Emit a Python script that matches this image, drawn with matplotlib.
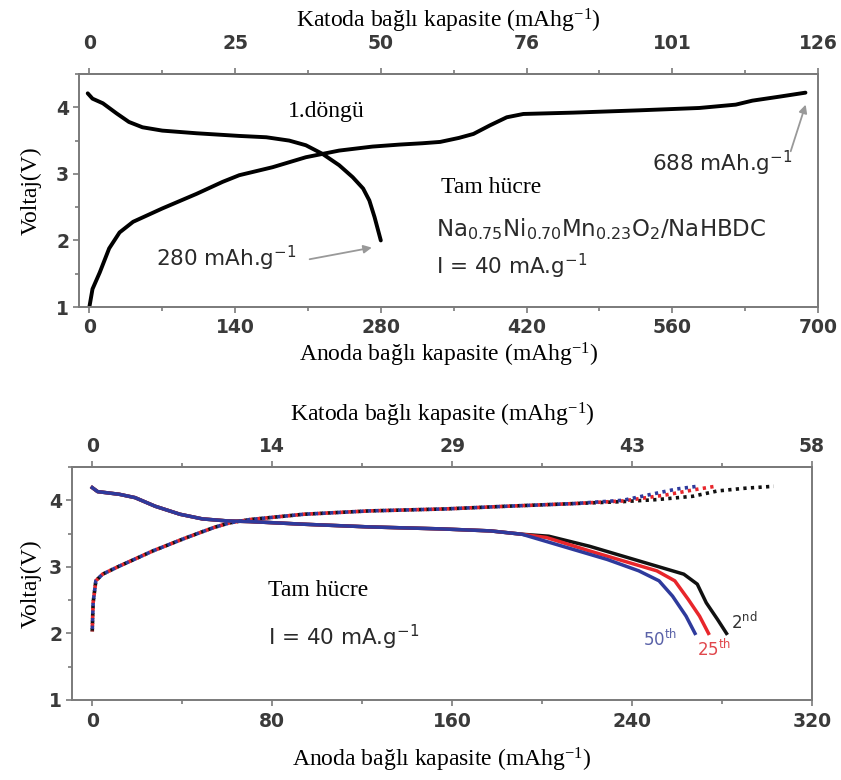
import matplotlib.pyplot as plt
from matplotlib.ticker import MultipleLocator

plt.rcParams['mathtext.default'] = 'regular'

SERIF = 'Liberation Serif'
SANS = 'DejaVu Sans'
GREY = '#7a7a7a'

# --- first cycle (top panel) ---
top_anode_ticks = [0, 140, 280, 420, 560, 700]
top_cathode_labels = ['0', '25', '50', '76', '101', '126']

dis1_x = [-1.6, 3, 13, 26, 38, 51, 70, 103, 144, 170, 192, 208, 224, 240, 253, 263, 269, 274, 280]
dis1_y = [4.21, 4.13, 4.06, 3.91, 3.78, 3.70, 3.65, 3.61, 3.57, 3.55, 3.50, 3.43, 3.30, 3.13,
          2.95, 2.78, 2.60, 2.35, 2.00]

ch1_x = [0, 3, 10, 19, 29, 42, 70, 103, 128, 144, 176, 208, 224, 240, 272, 298, 320, 337,
         355, 369, 385, 401, 417, 465, 529, 586, 621, 637, 663, 688]
ch1_y = [1.00, 1.27, 1.52, 1.88, 2.12, 2.28, 2.48, 2.70, 2.88, 2.98, 3.10, 3.25, 3.30, 3.35, 3.41, 3.44, 3.46, 3.48,
         3.54, 3.60, 3.73, 3.85, 3.90, 3.92, 3.955, 3.99, 4.04, 4.10, 4.16, 4.22]

# --- cycling (bottom panel) ---
bot_anode_ticks = [0, 80, 160, 240, 320]
bot_cathode_labels = ['0', '14', '29', '43', '58']

d2_x = [0, 2.4, 12, 19, 28, 39, 49, 60, 70, 94, 123, 155, 177, 191, 203, 221, 236, 251, 263, 269, 273, 278, 282]
d2_y = [4.19, 4.13, 4.09, 4.04, 3.91, 3.79, 3.72, 3.69, 3.68, 3.64, 3.60, 3.57, 3.54, 3.49,
        3.46, 3.31, 3.16, 3.01, 2.89, 2.74, 2.46, 2.21, 2.00]
d25_x = [0, 2.4, 12, 19, 28, 39, 49, 60, 70, 94, 123, 155, 177, 191, 202, 221, 236, 251, 259, 265, 270, 274]
d25_y = [4.19, 4.13, 4.09, 4.04, 3.91, 3.79, 3.72, 3.69, 3.68, 3.64, 3.60, 3.57, 3.54, 3.49,
         3.44, 3.24, 3.09, 2.94, 2.79, 2.51, 2.26, 2.00]
d50_x = [0, 2.4, 12, 19, 28, 39, 49, 60, 70, 94, 123, 155, 177, 191, 214, 229, 243, 252, 258, 264, 268]
d50_y = [4.19, 4.13, 4.09, 4.04, 3.91, 3.79, 3.72, 3.69, 3.68, 3.64, 3.60, 3.57, 3.54, 3.49,
         3.26, 3.11, 2.94, 2.79, 2.56, 2.26, 2.00]

c2_x = [0, 0.4, 1.6, 4.6, 12, 27, 42, 54, 61, 70, 94, 123, 157, 184, 214, 236, 251, 267, 278, 290, 303]
c2_y = [2.03, 2.46, 2.79, 2.89, 3.01, 3.24, 3.44, 3.59, 3.66, 3.71, 3.79, 3.84, 3.87, 3.91, 3.95, 3.98,
        4.01, 4.06, 4.14, 4.18, 4.21]
c25_x = [0, 0.4, 1.6, 4.6, 12, 27, 42, 54, 61, 70, 94, 123, 157, 184, 214, 236, 255, 268, 277]
c25_y = [2.03, 2.46, 2.79, 2.89, 3.01, 3.24, 3.44, 3.59, 3.66, 3.71, 3.79, 3.84, 3.87, 3.91, 3.95, 3.99,
         4.08, 4.16, 4.21]
c50_x = [0, 0.4, 1.6, 4.6, 12, 27, 42, 54, 61, 70, 94, 123, 157, 184, 214, 236, 250, 260, 269]
c50_y = [2.03, 2.46, 2.79, 2.89, 3.01, 3.24, 3.44, 3.59, 3.66, 3.71, 3.79, 3.84, 3.87, 3.91, 3.95, 4.00,
         4.10, 4.17, 4.21]

fig = plt.figure(figsize=(8.41, 7.8), dpi=100)
ax1 = fig.add_axes([0.0939, 0.6064, 0.8787, 0.2987])
ax2 = fig.add_axes([0.0856, 0.1026, 0.8799, 0.2987])


def tick_font(labels):
    for t in labels:
        t.set_fontfamily(SANS)
        t.set_fontweight('bold')
        t.set_fontsize(13.5)
        t.set_color('#3a3a3a')


def style_axes(ax, ticks, labels, xmin, xmax, minor, top_pad, bot_pad, top_lpad, bot_lpad, ylpad):
    ax.set_xlim(xmin, xmax)
    ax.set_ylim(1, 4.5)
    for s in ax.spines.values():
        s.set_color(GREY)
        s.set_linewidth(1.4)
    ax.set_xticks(ticks)
    ax.xaxis.set_minor_locator(MultipleLocator(minor))
    ax.set_yticks([1, 2, 3, 4])
    ax.yaxis.set_minor_locator(MultipleLocator(0.5))
    ax.tick_params(which='both', direction='out', color=GREY, width=1.2)
    ax.tick_params(which='major', length=4)
    ax.tick_params(which='minor', length=3)
    ax.tick_params(axis='x', pad=bot_pad)
    ax.tick_params(axis='y', pad=3)
    tick_font(ax.get_xticklabels() + ax.get_yticklabels())
    ax.set_xlabel('Anoda bağlı kapasite (mAhg$^{-1}$)', family=SERIF, fontsize=17, labelpad=bot_lpad)
    ax.set_ylabel('Voltaj(V)', family=SERIF, fontsize=17, labelpad=ylpad)

    sec = ax.secondary_xaxis('top')
    sec.set_xticks(ticks)
    sec.set_xticklabels(labels)
    sec.xaxis.set_minor_locator(MultipleLocator(minor))
    sec.spines['top'].set_color(GREY)
    sec.spines['top'].set_linewidth(1.4)
    sec.tick_params(which='both', direction='out', color=GREY, width=1.2, pad=top_pad)
    sec.tick_params(which='major', length=4)
    sec.tick_params(which='minor', length=3)
    tick_font(sec.get_xticklabels())
    sec.set_xlabel('Katoda bağlı kapasite (mAhg$^{-1}$)', family=SERIF, fontsize=17, labelpad=top_lpad)


style_axes(ax1, top_anode_ticks, top_cathode_labels, -10, 700, 70, 11, 4, 5, 3, 10)
style_axes(ax2, bot_anode_ticks, bot_cathode_labels, -9, 320, 40, 4, 5, 11, 10, 5)

# top panel curves
ax1.plot(dis1_x, dis1_y, color='black', lw=2.8, solid_capstyle='round', solid_joinstyle='round')
ax1.plot(ch1_x, ch1_y, color='black', lw=2.8, solid_capstyle='round', solid_joinstyle='round')

ax1.text(191, 3.94, '1.döngü', family=SERIF, fontsize=17, va='center')
ax1.text(338, 2.80, 'Tam hücre', family=SERIF, fontsize=17, va='center')
ax1.text(333, 2.17, 'Na$_{0.75}$Ni$_{0.70}$Mn$_{0.23}$O$_2$/NaHBDC', family=SANS, fontsize=16.5,
         va='center', color='#2a2a2a')
ax1.text(333, 1.61, 'I = 40 mA.g$^{-1}$', family=SANS, fontsize=15.5, va='center', color='#2a2a2a')
ax1.text(64, 1.73, '280 mAh.g$^{-1}$', family=SANS, fontsize=15.5, va='center', color='#2a2a2a')
ax1.text(541, 3.15, '688 mAh.g$^{-1}$', family=SANS, fontsize=15.5, va='center', color='#2a2a2a')
ax1.annotate('', xy=(dis1_x[-1] - 6, 1.90), xytext=(209, 1.71),
             arrowprops=dict(arrowstyle='-|>', color='#999999', lw=1.3, mutation_scale=12))
ax1.annotate('', xy=(ch1_x[-1] + 1, 4.08), xytext=(673, 3.30),
             arrowprops=dict(arrowstyle='-|>', color='#999999', lw=1.3, mutation_scale=12))

# bottom panel curves: 2nd, 25th, 50th cycle
cycles = [
    (d2_x, d2_y, c2_x, c2_y, '#111111', 0.0),
    (d25_x, d25_y, c25_x, c25_y, '#e8262b', 0.7),
    (d50_x, d50_y, c50_x, c50_y, '#2e3a9c', 1.4),
]
for dx, dy, cx, cy, col, off in cycles:
    ax2.plot(dx, dy, color=col, lw=2.5, solid_joinstyle='round')
    ax2.plot(cx, cy, color=col, lw=2.6, linestyle=(off, (0.9, 1.2)))

ax2.text(78, 2.64, 'Tam hücre', family=SERIF, fontsize=17, va='center')
ax2.text(78, 1.94, 'I = 40 mA.g$^{-1}$', family=SANS, fontsize=15.5, va='center', color='#2a2a2a')
ax2.text(284, 2.17, '2$^{nd}$', family=SANS, fontsize=12, va='center', color='#333333')
ax2.text(269, 1.77, '25$^{th}$', family=SANS, fontsize=12, va='center', color='#e0474c')
ax2.text(245, 1.92, '50$^{th}$', family=SANS, fontsize=12, va='center', color='#5a62a8')

fig.savefig('out.png', dpi=100)
